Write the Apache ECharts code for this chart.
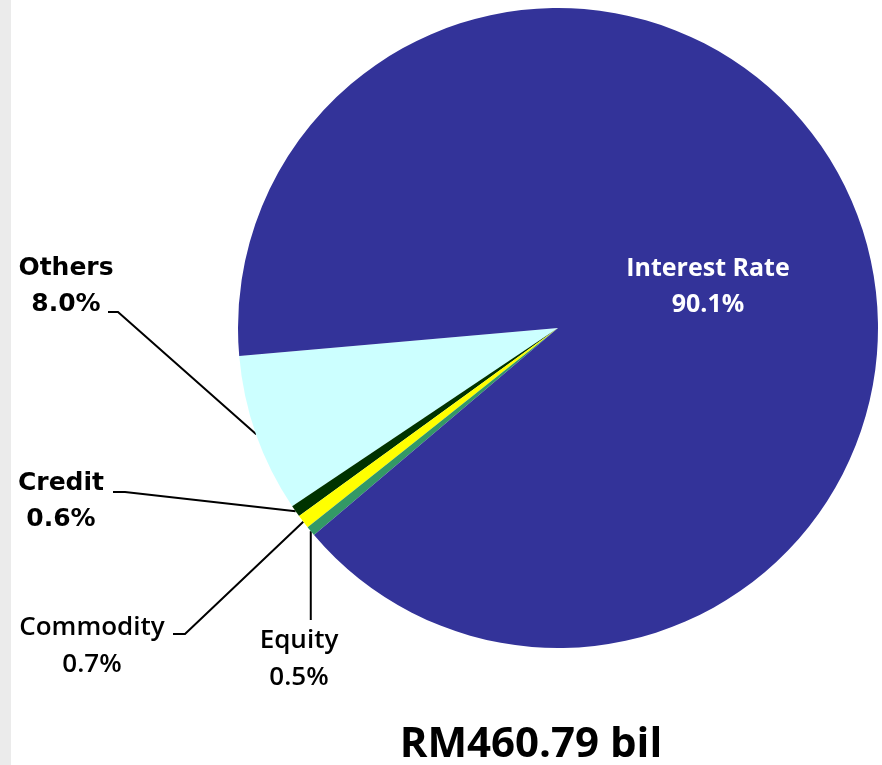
<!DOCTYPE html>
<html>
<head>
<meta charset="utf-8">
<script src="https://cdn.jsdelivr.net/npm/echarts@6/dist/echarts.min.js"></script>
<style>
  html, body { margin: 0; padding: 0; background: #fff; }
  #pie-chart { width: 882px; height: 765px; }
</style>
</head>
<body>
<div id="pie-chart"></div>
<script>
// data
var categories = ['Others', 'Credit', 'Commodity', 'Equity', 'Interest Rate'];
var shares = [8.0, 0.6, 0.7, 0.5, 90.1];
var totalText = 'RM460.79 bil';

var colors = ['#ccffff', '#003300', '#ffff00', '#339966', '#333399'];

// where each label sits and where its leader line bends
var labelPos = [[66, 286], [61, 501], [92, 646], [299, 659], [708, 287]];
var bendPos = [[118, 312], [125, 492], [185, 634], null, null];
var tailPos = [[108, 312], [113, 492], [173, 634], null, null];
var equityLineEnd = 620;

var verdana = { fontFamily: 'DejaVu Sans', fontWeight: 'bold', fontSize: 25, lineHeight: 36, color: '#000' };
var calibri = { fontFamily: 'Open Sans', fontWeight: 600, fontSize: 26, lineHeight: 37, color: '#000' };
var labelStyles = [verdana, verdana, calibri, calibri,
  { fontFamily: 'Open Sans', fontWeight: 'bold', fontSize: 25, lineHeight: 36, color: '#fff' }];

var myChart = echarts.init(document.getElementById('pie-chart'));

var pieData = categories.map(function (name, i) {
  return {
    name: name,
    value: shares[i],
    itemStyle: { color: colors[i] },
    label: labelStyles[i],
    labelLine: { show: i < 4 }
  };
});

var option = {
  animation: false,
  graphic: [
    { type: 'rect', shape: { x: 0, y: 0, width: 11, height: 765 }, style: { fill: '#ebebeb' } },
    {
      type: 'text', x: 531, y: 745,
      style: {
        text: totalText, align: 'center', verticalAlign: 'middle',
        font: 'bold 42px "Open Sans"', fill: '#000'
      }
    }
  ],
  series: [
    {
      type: 'pie',
      center: [558, 328],
      radius: 320,
      startAngle: 185,
      clockwise: false,
      avoidLabelOverlap: false,
      data: pieData,
      itemStyle: { borderWidth: 0 },
      label: {
        show: true,
        position: 'outside',
        formatter: function (p) { return p.name + '\n' + p.value.toFixed(1) + '%'; }
      },
      labelLine: { show: true, lineStyle: { color: '#000', width: 2 } },
      labelLayout: function (params) {
        var i = params.dataIndex;
        var res = {
          x: labelPos[i][0],
          y: labelPos[i][1],
          align: 'center',
          verticalAlign: 'middle'
        };
        if (params.labelLinePoints && i < 4) {
          var p0 = params.labelLinePoints[0];
          if (bendPos[i]) {
            res.labelLinePoints = [p0, bendPos[i], tailPos[i]];
          } else {
            res.labelLinePoints = [p0, [p0[0], equityLineEnd], [p0[0], equityLineEnd]];
          }
        }
        return res;
      }
    }
  ]
};

myChart.setOption(option);
</script>
</body>
</html>
